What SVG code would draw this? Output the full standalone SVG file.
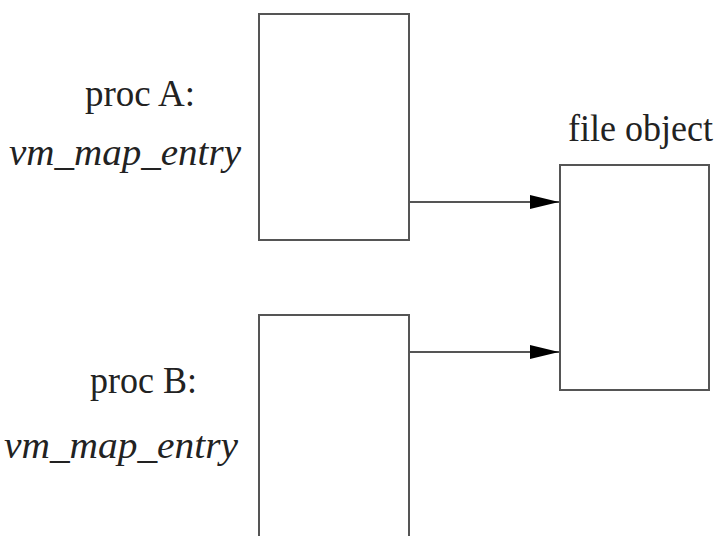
<svg xmlns="http://www.w3.org/2000/svg" width="721" height="536" viewBox="0 0 721 536">
<style>
.box{fill:#fff;stroke:#555;stroke-width:2}
.lbl{font-family:"Liberation Serif",serif;font-size:38px;fill:#222}
.it{font-style:italic}
.conn{stroke:#555;stroke-width:2;fill:none}
</style>
<defs>
<marker id="ah" markerUnits="userSpaceOnUse" markerWidth="30" markerHeight="16" refX="29" refY="8" orient="auto">
<path d="M0,1 L29,8 L0,15 Z" fill="#000"/>
</marker>
</defs>
<rect width="721" height="536" fill="#fff"/>
<g id="procA">
<rect class="box" x="259" y="14" width="150" height="226"/>
<text class="lbl" x="85" y="106" textLength="110" lengthAdjust="spacingAndGlyphs">proc A:</text>
<text class="lbl it" x="9" y="165" textLength="232" lengthAdjust="spacingAndGlyphs">vm_map_entry</text>
</g>
<g id="procB">
<rect class="box" x="259" y="315" width="150" height="240"/>
<text class="lbl" x="90" y="393" textLength="107" lengthAdjust="spacingAndGlyphs">proc B:</text>
<text class="lbl it" x="4" y="458" textLength="234" lengthAdjust="spacingAndGlyphs">vm_map_entry</text>
</g>
<g id="fileobj">
<rect class="box" x="560" y="165" width="149" height="225"/>
<text class="lbl" x="568" y="141" textLength="145" lengthAdjust="spacingAndGlyphs">file object</text>
</g>
<g id="connectors">
<line class="conn" x1="409" y1="202" x2="559" y2="202" marker-end="url(#ah)"/>
<line class="conn" x1="409" y1="352" x2="559" y2="352" marker-end="url(#ah)"/>
</g>
</svg>
